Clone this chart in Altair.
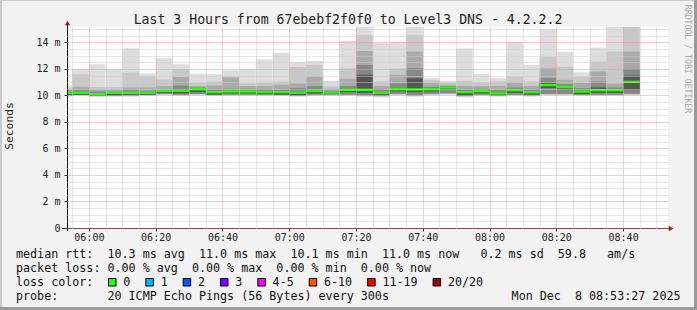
import altair as alt
import pandas as pd

# ---------------- data ----------------
times = ["05:50", "05:55", "06:00", "06:05", "06:10", "06:15", "06:20", "06:25", "06:30",
         "06:35", "06:40", "06:45", "06:50", "06:55", "07:00", "07:05", "07:10", "07:15",
         "07:20", "07:25", "07:30", "07:35", "07:40", "07:45", "07:50", "07:55", "08:00",
         "08:05", "08:10", "08:15", "08:20", "08:25", "08:30", "08:35", "08:40"]
# ms values
ping_max = [10.75, 12.0, 12.35, 12.0, 13.55, 11.65, 12.8, 12.35, 11.65, 11.6, 11.9, 12.0,
            12.72, 13.22, 12.5, 12.6, 11.1, 14.1, 15.3, 13.95, 14.05, 15.3, 11.3, 11.1,
            13.55, 11.6, 11.3, 14.05, 12.3, 15.0, 13.3, 11.74, 13.6, 15.3, 15.3]
ping_h2 = [10.55, 11.6, 10.65, 10.65, 11.72, 11.45, 11.2, 11.95, 10.95, 11.05, 11.45, 10.9,
           10.95, 11.05, 12.15, 12.3, 10.7, 12.05, 14.55, 11.05, 12.04, 14.55, 11.15, 10.95,
           11.1, 11.0, 11.05, 11.42, 11.05, 12.92, 12.17, 11.4, 12.55, 13.3, 15.3]
ping_h3 = [10.45, 10.65, 10.45, 10.45, 10.6, 10.6, 10.7, 11.4, 10.7, 10.75, 11.35, 10.7,
           10.7, 10.8, 10.9, 11.42, 10.5, 11.25, 13.35, 10.7, 11.55, 13.3, 10.95, 10.8,
           10.7, 10.7, 10.7, 10.95, 10.7, 12.04, 11.17, 10.95, 11.8, 10.9, 13.3]
ping_h4 = [10.35, 10.4, 10.3, 10.3, 10.4, 10.35, 10.45, 10.75, 10.6, 10.45, 10.5, 10.5,
           10.45, 10.45, 10.55, 10.7, 10.35, 10.7, 12.3, 10.45, 10.9, 12.05, 10.65, 10.7,
           10.45, 10.5, 10.4, 10.6, 10.45, 11.3, 10.85, 10.55, 11.04, 10.6, 12.0]
ping_h5 = [10.25, 10.25, 10.15, 10.25, 10.25, 10.25, 10.4, 10.45, 10.52, 10.3, 10.35, 10.35,
           10.3, 10.3, 10.25, 10.4, 10.27, 10.5, 11.55, 10.25, 10.55, 11.3, 10.52, 10.65,
           10.3, 10.37, 10.2, 10.45, 10.3, 10.95, 10.7, 10.35, 10.6, 10.45, 11.5]
median = [10.2, 10.2, 10.1, 10.2, 10.2, 10.2, 10.35, 10.35, 10.47, 10.25, 10.3, 10.3,
          10.25, 10.25, 10.2, 10.33, 10.22, 10.42, 10.42, 10.2, 10.47, 10.45, 10.47, 10.6,
          10.25, 10.32, 10.15, 10.4, 10.24, 10.78, 10.62, 10.29, 10.4, 10.4, 11.02]
ping_min = [9.9, 9.95, 9.9, 9.9, 9.9, 9.95, 10.0, 9.95, 10.0, 9.95, 9.95, 9.95,
            9.95, 9.95, 9.9, 9.95, 9.95, 9.95, 9.9, 9.85, 10.0, 9.9, 10.0, 10.05,
            9.85, 9.95, 9.9, 9.95, 9.9, 10.0, 10.0, 9.95, 9.95, 9.95, 10.0]
ping_lo_inner = [10.0, 10.05, 10.0, 10.0, 10.0, 10.05, 10.1, 10.05, 10.1, 10.05, 10.05, 10.05,
                 10.05, 10.05, 10.0, 10.05, 10.05, 10.05, 10.0, 9.95, 10.1, 10.0, 10.1, 10.15,
                 9.95, 10.05, 10.0, 10.05, 10.0, 10.1, 10.1, 10.05, 10.05, 10.05, 10.1]
ping_lo_dark = [10.05, 10.05, 9.95, 10.0, 10.05, 10.05, 10.2, 10.15, 10.25, 10.05, 10.15, 10.15,
                10.1, 10.05, 10.0, 10.15, 10.1, 10.25, 10.2, 10.05, 10.3, 10.25, 10.3, 10.45,
                10.0, 10.15, 10.0, 10.2, 10.05, 10.55, 10.45, 10.1, 10.2, 10.2, 10.4]

title_text = "Last 3 Hours from 67ebebf2f0f0 to Level3 DNS - 4.2.2.2"
row1 = "median rtt:  10.3 ms avg  11.0 ms max  10.1 ms min  11.0 ms now   0.2 ms sd  59.8   am/s"
row2 = "packet loss: 0.00 % avg  0.00 % max  0.00 % min  0.00 % now"
row3 = "loss color:"
row4 = "probe:       20 ICMP Echo Pings (56 Bytes) every 300s"
date_text = "Mon Dec  8 08:53:27 2025"
loss_labels = ["0", "1", "2", "3", "4-5", "6-10", "11-19", "20/20"]
loss_colors = ["#26ff00", "#00b8ff", "#0059ff", "#7e00ff", "#ff00ff", "#ff5500", "#ff0000", "#a00000"]
side_text = "RRDTOOL / TOBI OETIKER"
x_ticks = list(range(355, 535, 5))          # 5-minute grid, in minutes of the day
y_ticks = [v / 2 for v in range(0, 31)]     # 0.5 ms grid

END_MIN = 8 * 60 + 53 + 27 / 60.0
START_MIN = END_MIN - 180
W, H = 601, 201
PAD_L, PAD_T = 67, 27
FONT = "DejaVu Sans Mono"


def to_min(s):
    h, m = s.split(":")
    return int(h) * 60 + int(m)


def nb(s):
    return s.replace(" ", "\u00a0")


shades = ["#dddddd", "#c8c8c8", "#aaaaaa", "#888888", "#555555"]
rows = []
for i, t in enumerate(times):
    x0 = to_min(t)
    layers = [(ping_min[i], ping_max[i]), (ping_lo_inner[i], ping_h2[i]),
              (ping_lo_inner[i], ping_h3[i]), (ping_lo_inner[i], ping_h4[i]),
              (ping_lo_dark[i], ping_h5[i])]
    for k, (lo, hi) in enumerate(layers):
        rows.append(dict(x0=x0, x1=x0 + 5, lo=lo, hi=hi, shade=shades[k], layer=k))
smoke_df = pd.DataFrame(rows)

med_df = pd.DataFrame({
    "x0": [to_min(t) for t in times],
    "x1": [to_min(t) + 5 for t in times],
    "lo": [m - 0.09 for m in median],
    "hi": [m + 0.09 for m in median],
})

xscale = alt.Scale(domain=[START_MIN, END_MIN], nice=False, zero=False)
yscale = alt.Scale(domain=[0, 15.16], nice=False, zero=True)

x_label_expr = ("datum.value % 20 == 0 ? (floor(datum.value/60) < 10 ? '0' : '') + floor(datum.value/60) + ':' + "
                "(datum.value % 60 < 10 ? '0' : '') + (datum.value % 60) : ''")
y_label_expr = "datum.value % 2 == 0 ? (datum.value == 0 ? '0' : datum.value + ' m') : ''"


def make_x_axis():
    return alt.Axis(
        values=x_ticks, labelExpr=x_label_expr, title=None, domain=False,
        grid=True, gridDash=[1, 1], gridWidth=1,
        gridColor={"condition": {"test": "datum.value % 20 == 0", "value": "#f09a9a"}, "value": "#cdcdcd"},
        tickSize=3, tickColor="#333333",
        tickOpacity={"condition": {"test": "datum.value % 20 == 0", "value": 1}, "value": 0},
        labelFont=FONT, labelFontSize=10, labelColor="#222222", labelPadding=1,
        labelFlush=False, labelOverlap=False, labelBound=False, zindex=1,
    )


def make_y_axis():
    return alt.Axis(
        values=y_ticks, labelExpr=y_label_expr, title=None, domain=False,
        grid=True, gridDash=[1, 1], gridWidth=1,
        gridColor={"condition": {"test": "datum.value % 2 == 0", "value": "#f09a9a"}, "value": "#cdcdcd"},
        tickSize=3, tickColor="#333333",
        tickOpacity={"condition": {"test": "datum.value % 2 == 0", "value": 1}, "value": 0},
        labelFont=FONT, labelFontSize=10, labelColor="#222222", labelPadding=4,
        labelOverlap=False, labelBound=False, labelFlush=False, zindex=1,
    )


smoke = alt.Chart(smoke_df).mark_rect(clip=True, strokeWidth=0).encode(
    x=alt.X("x0:Q", scale=xscale, axis=make_x_axis()),
    x2="x1:Q",
    y=alt.Y("lo:Q", scale=yscale, axis=make_y_axis()),
    y2="hi:Q",
    color=alt.Color("shade:N", scale=None),
    order=alt.Order("layer:Q"),
)

med = alt.Chart(med_df).mark_rect(clip=True, color="#26ff00", strokeWidth=0).encode(
    x=alt.X("x0:Q", scale=xscale, axis=make_x_axis()),
    x2="x1:Q",
    y=alt.Y("lo:Q", scale=yscale, axis=make_y_axis()),
    y2="hi:Q",
)

one = pd.DataFrame({"a": [0]})


def txt(text, x, y, size=11.7, align="left", color="#111111", angle=0, baseline="alphabetic"):
    kw = dict(font=FONT, fontSize=size, align=align, baseline=baseline, color=color, text=nb(text))
    if angle:
        kw["angle"] = angle
    return alt.Chart(one).mark_text(**kw).encode(x=alt.value(x), y=alt.value(y))


def box(x1, x2, y1, y2, color, stroke=None):
    kw = dict(color=color)
    if stroke:
        kw.update(stroke=stroke, strokeWidth=1)
    else:
        kw.update(strokeWidth=0)
    return alt.Chart(one).mark_rect(**kw).encode(
        x=alt.value(x1), x2=alt.value(x2), y=alt.value(y1), y2=alt.value(y2))


layers = [smoke, med]

# axis lines and arrows
layers.append(alt.Chart(one).mark_rule(color="#000000", strokeWidth=1).encode(
    x=alt.value(-5), x2=alt.value(603), y=alt.value(201.5)))
layers.append(alt.Chart(one).mark_rule(color="#000000", strokeWidth=1).encode(
    x=alt.value(0.5), y=alt.value(-4), y2=alt.value(204)))
layers.append(alt.Chart(one).mark_point(shape="triangle-up", filled=True, size=28, color="#9b1c1c", opacity=1).encode(
    x=alt.value(0.5), y=alt.value(-4)))
layers.append(alt.Chart(one).mark_point(shape="triangle-right", filled=True, size=28, color="#9b1c1c", opacity=1).encode(
    x=alt.value(604), y=alt.value(201.5)))

# title, axis title, side text
layers.append(txt(title_text, 348 - PAD_L, 24 - PAD_T, size=13.2, align="center", color="#222222"))
layers.append(txt("Seconds", 13 - PAD_L, 126 - PAD_T, size=11.3, align="center", angle=270, color="#222222"))
layers.append(txt(side_text, 686.5 - PAD_L, 59 - PAD_T, size=8.2, align="center", angle=90,
                  color="#a8a8a8", baseline="middle"))

# legend block
LX = 16 - PAD_L
layers.append(txt(row1, LX, 257.8 - PAD_T))
layers.append(txt(row2, LX, 271.8 - PAD_T))
layers.append(txt(row3, LX, 285.8 - PAD_T))
layers.append(txt(row4, LX, 299.6 - PAD_T))
layers.append(txt(date_text, 680.5 - PAD_L, 299.6 - PAD_T, align="right"))

CW = 7.03
bx = 108.5
for lab, col in zip(loss_labels, loss_colors):
    layers.append(box(bx - PAD_L, bx + 7.5 - PAD_L, 278.5 - PAD_T, 286 - PAD_T, col, stroke="#000000"))
    lx = bx + 14.8
    layers.append(txt(lab, lx - PAD_L, 285.8 - PAD_T))
    bx = lx + len(lab) * CW + 15.5

# 3D frame
layers.append(box(-PAD_L, 697 - PAD_L, -PAD_T, -PAD_T + 1, "#cbcbcb"))
layers.append(box(-PAD_L, -PAD_L + 2, -PAD_T, 310 - PAD_T, "#cbcbcb"))
layers.append(box(-PAD_L, 697 - PAD_L, 307 - PAD_T, 310 - PAD_T, "#9a9a9a"))
layers.append(box(694 - PAD_L, 697 - PAD_L, -PAD_T, 310 - PAD_T, "#9a9a9a"))

chart = alt.layer(*layers).properties(
    width=W, height=H,
    autosize=alt.AutoSizeParams(type="none"),
    padding={"left": PAD_L, "top": PAD_T, "right": 697 - PAD_L - W, "bottom": 310 - PAD_T - H},
).configure(background="#f2f2f2").configure_view(fill="#ffffff", stroke=None)

chart.save("out.html", embed_options={"renderer": "svg", "actions": False})
